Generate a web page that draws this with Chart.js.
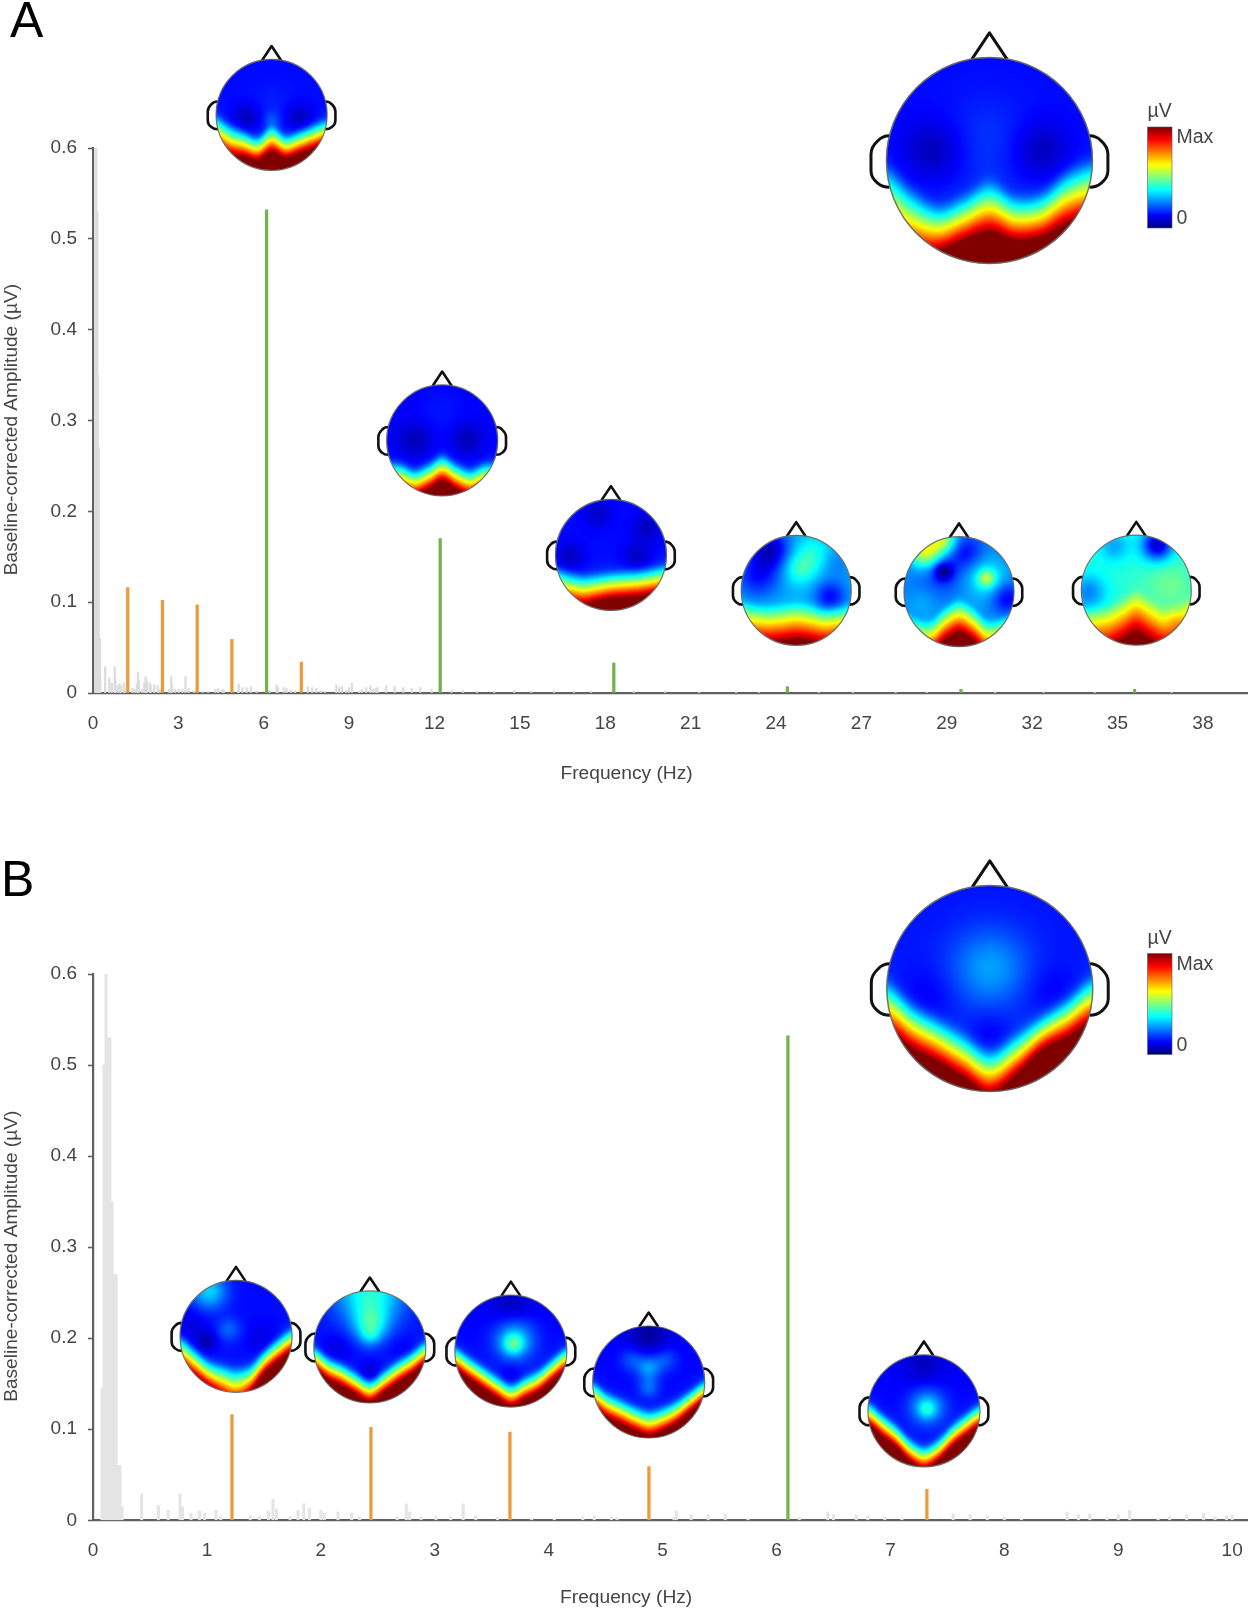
<!DOCTYPE html>
<html><head><meta charset="utf-8">
<script src="https://cdn.jsdelivr.net/npm/chart.js@4"></script>
<style>
html,body{margin:0;padding:0;background:#fff;width:1253px;height:1613px;overflow:hidden}
canvas{position:absolute;left:0;filter:blur(.45px)}
.tag{position:absolute;font:50px "Liberation Sans",Arial,sans-serif;color:#000;line-height:50px}
</style></head><body>
<div class="tag" style="left:10px;top:-5px">A</div>
<div class="tag" style="left:1px;top:854px">B</div>
<canvas id="a" width="1253" height="800" style="top:0"></canvas>
<canvas id="b" width="1253" height="808" style="top:805px"></canvas>
<script>
// ---------- data ----------
const yTickValues = [0,0.1,0.2,0.3,0.4,0.5,0.6];
const yTickLabels = ['0','0.1','0.2','0.3','0.4','0.5','0.6'];
const xTickValuesA = [0,3,6,9,12,15,18,21,24,27,30,33,36,39];
const xTickLabelsA = ['0','3','6','9','12','15','18','21','24','27','29','32','35','38'];
const xTickValuesB = [0,1,2,3,4,5,6,7,8,9,10];
const xTickLabelsB = ['0','1','2','3','4','5','6','7','8','9','10'];

const orangeHz  = [1.22,2.44,3.66,4.88,7.32];
const orangeAmp = [0.116,0.102,0.097,0.059,0.034];
const greenHzA  = [6.10,12.20,18.30,24.40,30.50,36.60];
const greenAmpA = [0.532,0.170,0.033,0.007,0.004,0.004];
const greenHzB  = [6.10];
const greenAmpB = [0.532];

const noiseHz  = [0.079,0.097,0.114,0.132,0.149,0.167,0.184,0.202,0.219,0.237,0.255,
  0.427,0.574,0.66,0.764,0.785,0.86,0.935,0.98,1.08,1.12,1.38,1.46,1.54,1.58,1.61,1.73,1.8,1.85,1.9,2.0,2.03,2.15,2.27,2.34,
  2.67,2.75,2.78,2.88,3.01,3.14,3.25,3.36,3.55,3.85,4.05,4.3,4.4,4.55,4.6,5.1,5.12,5.25,5.4,5.55,5.75,6.2,6.45,6.5,6.7,6.8,6.95,7.1,
  7.55,7.7,7.85,8.0,8.15,8.55,8.65,8.75,8.9,9.0,9.1,9.35,9.45,9.6,9.75,9.85,9.95,10.0];
const noiseAmp = [0.145,0.50,0.60,0.53,0.53,0.35,0.27,0.27,0.06,0.06,0.015,
  0.029,0.0165,0.011,0.0287,0.015,0.008,0.010,0.008,0.011,0.004,0.005,0.004,0.010,0.023,0.013,0.004,0.011,0.018,0.013,0.011,0.008,0.009,0.008,0.004,
  0.004,0.018,0.009,0.004,0.004,0.004,0.018,0.005,0.003,0.002,0.002,0.004,0.005,0.004,0.003,0.003,0.010,0.006,0.006,0.007,0.002,0.003,0.009,0.006,0.006,0.005,0.003,0.002,
  0.007,0.006,0.005,0.003,0.002,0.009,0.006,0.007,0.003,0.006,0.011,0.002,0.004,0.006,0.008,0.004,0.005,0.006];
const noiseHzHigh  = [10.3,10.6,10.9,11.2,11.5,11.9,12.6,13.0,13.5,14.1,14.8,15.4,16.2,16.9,17.5,19.0,20.1,21.3,22.6,23.4,25.5,26.7,28.2,29.3,31.7,33.4,35.2,37.9];
const noiseAmpHigh = [0.008,0.007,0.006,0.005,0.006,0.004,0.003,0.003,0.002,0.002,0.003,0.002,0.003,0.002,0.002,0.002,0.002,0.001,0.001,0.001,0.001,0.001,0.001,0.001,0.001,0.001,0.001,0.001];

// Topographic maps: edge = where the posterior band starts at nine points left to right,
// ramp = how far it takes to reach the maximum, base and blobs = the rest of the scalp.
const mapA6   = {base:.13,edge:[-.02,.14,.26,.36,.16,.33,.25,.14,.05],ramp:[.58,.58,.5,.46,.52,.45,.45,.47,.47],blobs:[[-.45,.05,-.08,.18],[.5,.05,-.08,.18],[0,-.1,.02,.3],[0,.08,.05,.1]]};
const mapABig = {base:.13,edge:[.02,.25,.41,.32,.18,.32,.29,.08,-.03],ramp:[.72,.62,.47,.46,.52,.46,.46,.54,.58],blobs:[[-.55,-.1,-.08,.2],[.5,-.1,-.08,.2],[0,-.2,.04,.3]]};
const mapA12  = {base:.12,edge:[.36,.38,.48,.38,.24,.38,.48,.38,.36],ramp:[.5,.5,.5,.5,.5,.5,.5,.5,.5],blobs:[[-.5,0,-.07,.22],[.45,-.02,-.07,.2],[0,-.5,.02,.3]]};
const mapA18  = {base:.13,edge:[.2,.27,.32,.3,.27,.25,.23,.19,.14],ramp:[.58,.58,.57,.54,.52,.52,.52,.52,.52],blobs:[[-.74,.03,-.07,.18],[.47,.03,-.07,.18],[.65,-.5,-.07,.18],[-.25,-.75,-.06,.18]]};
const mapA24  = {base:.29,edge:[.18,.23,.25,.23,.2,.23,.28,.26,.23],ramp:[.7,.7,.7,.7,.7,.7,.7,.7,.7],blobs:[[-.48,-.75,-.22,.25],[-.7,-.25,-.15,.28],[.62,.12,-.17,.2],[.3,-.65,.11,.24],[.05,-.38,.12,.2],[.7,-.5,-.05,.2]]};
const mapA29  = {base:.25,edge:[.36,.48,.48,.26,.13,.26,.48,.46,.36],ramp:[.62,.62,.62,.62,.62,.62,.62,.62,.62],blobs:[[-.28,-.37,-.19,.12],[-.3,-.3,-.07,.3],[-.62,-.72,.34,.2],[-.3,-.95,.3,.18],[.5,-.24,.2,.11],[.5,-.24,.12,.28],[.87,.12,-.15,.2],[.12,-.72,-.12,.22],[-.65,.2,.04,.2]]};
const mapA35  = {base:.41,edge:[.35,.3,.25,.12,-.02,.12,.25,.2,.1],ramp:[.8,.8,.8,.8,.8,.8,.8,.8,.8],blobs:[[-.88,.05,-.16,.24],[.38,-.82,-.34,.2],[-.4,-.8,-.12,.2],[.6,-.1,.07,.3],[.7,.55,.06,.1]]};
const mapBBig = {base:.14,edge:[-.1,.12,.27,.42,.57,.42,.25,.07,-.14],ramp:[.52,.47,.45,.45,.45,.43,.36,.41,.47],blobs:[[0,-.2,.14,.27],[-.6,.1,-.04,.2],[.6,.05,-.04,.2],[0,.45,-.04,.15]]};
const mapB12  = {base:.13,edge:[-.02,.18,.39,.47,.52,.47,.22,0,-.17],ramp:[.52,.52,.5,.58,.65,.53,.45,.45,.45],blobs:[[-.48,-.8,.2,.22],[-.13,-.12,.09,.15],[-.53,.1,-.09,.13],[-.8,-.2,-.04,.2],[.5,.05,-.04,.2]]};
const mapB24  = {base:.13,edge:[-.03,.15,.27,.42,.55,.39,.21,.05,-.13],ramp:[.43,.43,.43,.43,.43,.43,.43,.43,.43],blobs:[[0,-1,.28,.42],[.02,-.42,.2,.22],[0,-.2,.1,.13],[0,.48,-.07,.15],[-.6,.05,-.05,.2],[.6,.05,-.03,.2]]};
const mapB36  = {base:.12,edge:[-.1,.07,.24,.41,.55,.43,.3,.09,-.1],ramp:[.43,.43,.43,.43,.43,.43,.43,.43,.43],blobs:[[.04,-.12,.17,.13],[.07,-.2,.2,.25],[0,-.85,-.06,.25],[0,.45,-.03,.15]]};
const mapB49  = {base:.12,edge:[-.03,.15,.27,.39,.47,.41,.29,.12,-.05],ramp:[.48,.48,.48,.48,.49,.47,.45,.41,.39],blobs:[[0,-.25,.15,.15],[-.3,-.4,.08,.15],[.3,-.4,.08,.15],[0,.1,.1,.13],[0,-.85,-.09,.25]]};
const mapB73  = {base:.12,edge:[-.18,.02,.22,.47,.6,.47,.22,.02,-.15],ramp:[.43,.43,.43,.43,.43,.43,.43,.43,.43],blobs:[[.05,-.03,.1,.1],[.06,-.07,.2,.22],[0,-.85,-.06,.25]]};

const mapsA    = [mapA6,mapABig,mapA12,mapA18,mapA24,mapA29,mapA35];
const mapHzA   = [6.275,31.50,12.27,18.20,24.71,30.43,36.66];
const mapAmpA  = [.6365,.5862,.2781,.1520,.1130,.1116,.1133];
const mapSizeA = [55.5,103,55.5,55.5,55,55,55];
const mapsB    = [mapBBig,mapB12,mapB24,mapB36,mapB49,mapB73];
const mapHzB   = [7.872,1.2555,2.430,3.668,4.878,7.294];
const mapAmpB  = [.584,.2021,.1904,.1859,.1519,.1202];
const mapSizeB = [103,56,56,56,56,56];

// ---------- drawing ----------
const FONT='"Liberation Sans",Arial,sans-serif', INK='#454545';
const clamp=v=>Math.max(0,Math.min(1,v));
const jet=v=>[clamp(Math.min(4*v-1.5,-4*v+4.5)),clamp(Math.min(4*v-.5,-4*v+3.5)),clamp(Math.min(4*v+.5,-4*v+2.5))];
function curve(a,x){
  const u=clamp((x+1)/2)*(a.length-1),i=Math.min(a.length-2,Math.floor(u)),t=u-i;
  const p0=a[Math.max(0,i-1)],p1=a[i],p2=a[i+1],p3=a[Math.min(a.length-1,i+2)];
  return .5*(2*p1+(p2-p0)*t+(2*p0-5*p1+4*p2-p3)*t*t+(3*p1-p0-3*p2+p3)*t*t*t);
}
function topoImage(m,r){
  const s=Math.ceil(2*r)+2,c=document.createElement('canvas');c.width=c.height=s;
  const g=c.getContext('2d'),im=g.createImageData(s,s);
  for(let j=0;j<s;j++)for(let i=0;i<s;i++){
    const x=(i+.5-s/2)/r,y=(j+.5-s/2)/r,d=Math.hypot(x,y);
    if(d>1+1/r)continue;
    let b=m.base;
    for(const q of m.blobs)b+=q[2]*Math.exp(-((x-q[0])**2+(y-q[1])**2)/(2*q[3]*q[3]));
    const e=y-curve(m.edge,x),soft=(e+Math.sqrt(e*e+.005))/2,t=clamp(soft/curve(m.ramp,x));
    const v=clamp(b)+(1-clamp(b))*t,[R,G,B]=jet(v),k=(j*s+i)*4;
    im.data[k]=R*255;im.data[k+1]=G*255;im.data[k+2]=B*255;im.data[k+3]=255*clamp((1-d)*r+.5);
  }
  g.putImageData(im,0,0);return c;
}
function drawHead(ctx,m,cx,cy,r){
  ctx.save();ctx.strokeStyle='#111';ctx.lineWidth=r>80?3:2.6;ctx.lineJoin='round';
  ctx.beginPath();ctx.moveTo(cx-.17*r,cy-.985*r);ctx.lineTo(cx,cy-1.24*r);ctx.lineTo(cx+.17*r,cy-.985*r);ctx.stroke();
  for(const sd of [-1,1]){
    ctx.beginPath();
    ctx.moveTo(cx+sd*.97*r,cy-.24*r);
    ctx.quadraticCurveTo(cx+sd*1.04*r,cy-.24*r,cx+sd*1.085*r,cy-.19*r);
    ctx.quadraticCurveTo(cx+sd*1.15*r,cy-.13*r,cx+sd*1.15*r,cy-.06*r);
    ctx.lineTo(cx+sd*1.15*r,cy+.1*r);
    ctx.quadraticCurveTo(cx+sd*1.15*r,cy+.17*r,cx+sd*1.085*r,cy+.22*r);
    ctx.quadraticCurveTo(cx+sd*1.04*r,cy+.26*r,cx+sd*.97*r,cy+.26*r);
    ctx.stroke();
  }
  ctx.drawImage(topoImage(m,r),cx-Math.ceil(2*r+2)/2,cy-Math.ceil(2*r+2)/2);
  ctx.strokeStyle='rgba(90,95,90,.85)';ctx.lineWidth=r>80?1.5:1.2;
  ctx.beginPath();ctx.arc(cx,cy,r,0,Math.PI*2);ctx.stroke();
  ctx.restore();
}
function text(ctx,s,x,y,size,align,rot){
  ctx.save();ctx.font=size+'px '+FONT;ctx.fillStyle=INK;ctx.textAlign=align||'center';ctx.textBaseline='middle';
  ctx.translate(x,y);if(rot)ctx.rotate(rot);ctx.fillText(s,0,0);ctx.restore();
}
function panelPlugin(cfg){return {id:'panel',afterDraw(chart){
  const ctx=chart.ctx,X=chart.scales.x,Y=chart.scales.y;
  cfg.maps.forEach((m,i)=>drawHead(ctx,m,X.getPixelForValue(cfg.hz[i]),Y.getPixelForValue(cfg.amp[i]),cfg.size[i]));
  const top=cfg.barTop,h=101,left=1147.5,w=24.5,grad=ctx.createLinearGradient(0,top+h,0,top);
  for(let k=0;k<=32;k++){const [r,g,b]=jet(k/32);grad.addColorStop(k/32,`rgb(${r*255|0},${g*255|0},${b*255|0})`);}
  ctx.fillStyle=grad;ctx.fillRect(left,top,w,h);
  ctx.strokeStyle='rgba(90,90,110,.6)';ctx.lineWidth=1;ctx.strokeRect(left,top,w,h);
  text(ctx,'µV',left,top-15,19.5,'left');
  text(ctx,'Max',left+29,top+11,19.5,'left');
  text(ctx,'0',left+29,top+92,19.5,'left');
  text(ctx,'Frequency (Hz)',X.getPixelForValue(cfg.titleHz),cfg.titleY,19.2,'center');
  text(ctx,'Baseline-corrected Amplitude (µV)',12,Y.getPixelForValue(.29),19.1,'center',-Math.PI/2);
}};}
const pts=(xs,ys)=>xs.map((x,i)=>({x,y:ys[i]}));
function build(id,o){
  new Chart(document.getElementById(id),{
    type:'bar',
    data:{datasets:[
      {data:pts(o.greenHz,o.greenAmp),backgroundColor:'#74b150',barThickness:2.6,grouped:false,order:1},
      {data:pts(orangeHz,orangeAmp),backgroundColor:'#ee9a3c',barThickness:2.6,grouped:false,order:2},
      {data:pts(o.noiseHz,o.noiseAmp),backgroundColor:o.noiseColor,barThickness:o.noiseWidth,grouped:false,order:3}
    ]},
    options:{
      responsive:false,animation:false,devicePixelRatio:1,
      layout:{padding:{top:o.padTop,right:6,left:0,bottom:0}},
      plugins:{legend:{display:false},tooltip:{enabled:false}},
      scales:{
        x:{type:'linear',min:0,max:o.xMax,offset:false,
          afterFit:s=>{s.height=o.axisH;s.paddingRight=0;s.paddingLeft=0;},
          afterBuildTicks:s=>{s.ticks=o.xTicks.map(value=>({value}));},
          border:{color:'#606060',width:2.2},
          grid:{display:false,drawTicks:false},
          ticks:{autoSkip:false,maxRotation:0,padding:19,color:INK,font:{family:FONT,size:19},callback:v=>o.xLabels[o.xTicks.indexOf(v)]}},
        y:{type:'linear',min:0,max:.6,
          afterFit:s=>{s.width=93;s.paddingTop=0;s.paddingBottom=0;},
          afterBuildTicks:s=>{s.ticks=yTickValues.map(value=>({value}));},
          border:{color:'#606060',width:2.2},
          grid:{display:true,drawOnChartArea:false,drawTicks:true,tickLength:5,tickColor:'#606060',tickWidth:1.6},
          ticks:{padding:11,color:INK,font:{family:FONT,size:19},callback:v=>yTickLabels[yTickValues.indexOf(v)]}}
      }
    },
    plugins:[panelPlugin(o.panel)]
  });
}
build('a',{greenHz:greenHzA,greenAmp:greenAmpA,noiseHz:noiseHz.concat(noiseHzHigh),noiseAmp:noiseAmp.concat(noiseAmpHigh),
  noiseColor:'#dcdcdc',noiseWidth:1.6,xMax:40.55,xTicks:xTickValuesA,xLabels:xTickLabelsA,padTop:148,axisH:107,
  panel:{maps:mapsA,hz:mapHzA,amp:mapAmpA,size:mapSizeA,barTop:127,titleHz:18.75,titleY:773.6}});
build('b',{greenHz:greenHzB,greenAmp:greenAmpB,noiseHz:noiseHz,noiseAmp:noiseAmp,
  noiseColor:'#e4e4e4',noiseWidth:2.4,xMax:10.13,xTicks:xTickValuesB,xLabels:xTickLabelsB,padTop:169,axisH:92.7,
  panel:{maps:mapsB,hz:mapHzB,amp:mapAmpB,size:mapSizeB,barTop:148.5,titleHz:4.68,titleY:792.6}});
</script></body></html>
